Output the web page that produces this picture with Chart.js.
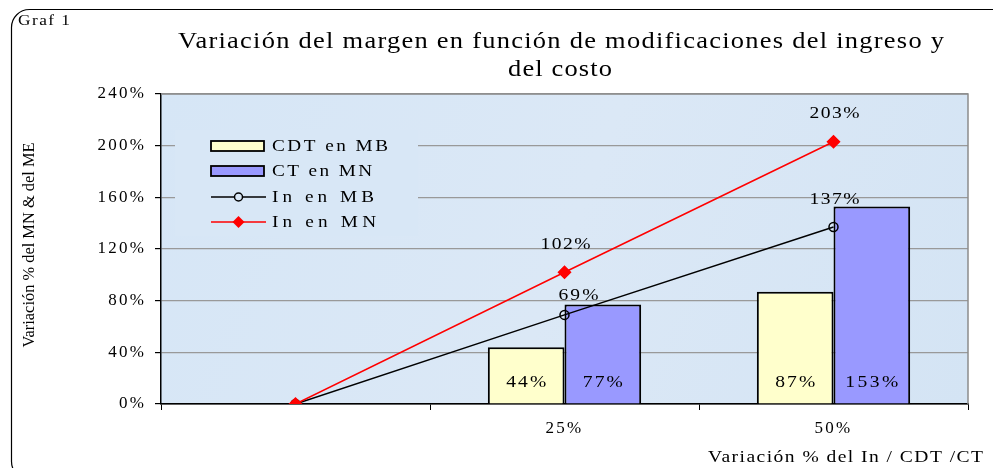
<!DOCTYPE html>
<html>
<head>
<meta charset="utf-8">
<script src="https://cdn.jsdelivr.net/npm/chart.js@4"></script>
<style>
html,body{margin:0;padding:0;background:#fff;}
#wrap{position:relative;width:993px;height:468px;}
canvas{display:block;}
</style>
</head>
<body>
<div id="wrap"><canvas id="c" width="993" height="468"></canvas></div>
<script>
const categories = ["", "25%", "50%"];
const cdtEnMB = [0, 44, 87];
const ctEnMN = [0, 77, 153];
const inEnMB = [0, 69, 137];
const inEnMN = [0, 102, 203];
const yTicks = [0, 40, 80, 120, 160, 200, 240];
const chartTitle = ["Variación del margen en función de modificaciones del ingreso y", "del costo"];
const yTitle = "Variación % del MN & del ME";
const xTitle = "Variación % del In / CDT /CT";
const cornerLabel = "Graf 1";
const seriesNames = ["CDT en MB", "CT en MN", "In en MB", "In en MN"];

const SERIF = '"Liberation Serif", "Times New Roman", serif';
const PLOT_BG = '#d8e7f6';

// draw text widened to a target width (horizontal stretch + letter spacing)
function fitText(ctx, text, x, y, target, align, maxStretch) {
  maxStretch = maxStretch || 1.15;
  ctx.letterSpacing = '0px';
  const w = ctx.measureText(text).width;
  const n = Array.from(text).length;
  const sx = Math.max(0.7, Math.min(target / w, maxStretch));
  const ls = n > 1 ? Math.max(0, (target / sx - w) / (n - 1)) : 0;
  let x0 = x;
  if (align === 'center') x0 = x - target / 2;
  else if (align === 'right') x0 = x - target;
  ctx.save();
  ctx.translate(x0, y);
  ctx.scale(sx, 1);
  ctx.letterSpacing = ls + 'px';
  ctx.textAlign = 'left';
  ctx.fillText(text, 0, 0);
  ctx.restore();
}

const decor = {
  id: 'decor',
  beforeDraw(chart) {
    const ctx = chart.ctx, a = chart.chartArea;
    ctx.save();
    ctx.fillStyle = '#fff';
    ctx.fillRect(0, 0, chart.width, chart.height);
    ctx.strokeStyle = '#000';
    ctx.lineWidth = 1.2;
    ctx.beginPath();
    ctx.roundRect(11.5, 9.5, 1000, 470, 18);
    ctx.stroke();
    const g = ctx.createLinearGradient(a.left, a.top, a.right, a.bottom);
    g.addColorStop(0, '#d6e6f6');
    g.addColorStop(0.5, '#dbe8f6');
    g.addColorStop(1, '#d4e4f4');
    ctx.fillStyle = g;
    ctx.fillRect(a.left, a.top, a.right - a.left, a.bottom - a.top);
    ctx.restore();
    // wider letter spacing for library-drawn tick labels (Excel-like rendering)
    ctx.letterSpacing = '2.2px';
  },
  afterDatasetsDraw(chart) {
    const ctx = chart.ctx, a = chart.chartArea;
    ctx.save();
    ctx.strokeStyle = '#8c8c8c';
    ctx.lineWidth = 1.5;
    ctx.beginPath();
    ctx.moveTo(a.left, a.top); ctx.lineTo(a.right, a.top); ctx.lineTo(a.right, a.bottom);
    ctx.stroke();

    // data labels
    ctx.fillStyle = '#000';
    ctx.font = '17px ' + SERIF;
    ctx.textBaseline = 'middle';
    [0, 1].forEach(di => {
      const meta = chart.getDatasetMeta(di);
      const data = chart.data.datasets[di].data;
      meta.data.forEach((el, i) => {
        if (!data[i]) return;
        const t = data[i] + '%';
        fitText(ctx, t, el.x, a.bottom - 21, t.length === 3 ? 40 : 53, 'center');
      });
    });
    [2, 3].forEach(di => {
      const meta = chart.getDatasetMeta(di);
      const data = chart.data.datasets[di].data;
      meta.data.forEach((el, i) => {
        if (!data[i]) return;
        const moved = (di === 2 && i === 1);
        const dx = moved ? 14 : 1;
        const dy = moved ? 19 : 28;
        const t = data[i] + '%';
        fitText(ctx, t, el.x + dx, el.y - dy, t.length === 3 ? 40 : 50, 'center');
      });
    });

    // legend (inside plot)
    const lx = 175, ly = 130, lw = 243, lh = 106;
    ctx.fillStyle = PLOT_BG;
    ctx.fillRect(lx, ly, lw, lh);
    const rows = [146, 171, 197, 222];
    const sx = 211, ex = 264;
    ctx.lineWidth = 1.8;
    ctx.strokeStyle = '#000';
    ctx.fillStyle = '#ffffcc';
    ctx.fillRect(sx, rows[0] - 5, ex - sx, 10); ctx.strokeRect(sx, rows[0] - 5, ex - sx, 10);
    ctx.fillStyle = '#9999ff';
    ctx.fillRect(sx, rows[1] - 5, ex - sx, 10); ctx.strokeRect(sx, rows[1] - 5, ex - sx, 10);
    ctx.lineWidth = 1.5;
    ctx.beginPath(); ctx.moveTo(sx, rows[2]); ctx.lineTo(ex + 2, rows[2]); ctx.stroke();
    ctx.beginPath(); ctx.arc((sx + ex + 2) / 2, rows[2], 4, 0, Math.PI * 2);
    ctx.fillStyle = PLOT_BG; ctx.fill(); ctx.stroke();
    ctx.strokeStyle = '#ff0000';
    ctx.beginPath(); ctx.moveTo(sx, rows[3]); ctx.lineTo(ex + 2, rows[3]); ctx.stroke();
    const cx = (sx + ex + 2) / 2;
    ctx.fillStyle = '#ff0000';
    ctx.beginPath(); ctx.moveTo(cx, rows[3] - 6); ctx.lineTo(cx + 6, rows[3]); ctx.lineTo(cx, rows[3] + 6); ctx.lineTo(cx - 6, rows[3]); ctx.closePath(); ctx.fill();
    ctx.fillStyle = '#000';
    ctx.font = '16px ' + SERIF;
    const legW = [116, 100, 102, 104];
    seriesNames.forEach((n, i) => fitText(ctx, n, 272, rows[i] + 1, legW[i], 'left', 1.2));

    // titles
    ctx.font = '23px ' + SERIF;
    fitText(ctx, chartTitle[0], 561, 42, 766, 'center');
    fitText(ctx, chartTitle[1], 560, 70, 104, 'center');
    ctx.font = '15px ' + SERIF;
    fitText(ctx, cornerLabel, 18, 21, 52, 'left');
    ctx.font = '17px ' + SERIF;
    fitText(ctx, xTitle, 983, 458, 275, 'right');
    ctx.save();
    ctx.translate(30, 245);
    ctx.rotate(-Math.PI / 2);
    ctx.font = '16px ' + SERIF;
    fitText(ctx, yTitle, 0, 0, 205, 'center');
    ctx.restore();
    ctx.restore();
  }
};

new Chart(document.getElementById('c'), {
  data: {
    labels: categories,
    datasets: [
      { type: 'bar', label: seriesNames[0], data: cdtEnMB, backgroundColor: '#ffffcc', borderColor: '#000', borderWidth: 2, order: 2 },
      { type: 'bar', label: seriesNames[1], data: ctEnMN, backgroundColor: '#9999ff', borderColor: '#000', borderWidth: 2, order: 2 },
      { type: 'line', label: seriesNames[2], data: inEnMB, borderColor: '#000', borderWidth: 1.5, pointStyle: 'circle', pointRadius: 4.5, pointBackgroundColor: 'rgba(0,0,0,0)', pointBorderColor: '#000', pointBorderWidth: 1.5, order: 1 },
      { type: 'line', label: seriesNames[3], data: inEnMN, borderColor: '#ff0000', borderWidth: 1.5, pointStyle: 'rectRot', pointRadius: 6, pointBackgroundColor: '#ff0000', pointBorderColor: '#ff0000', order: 0 }
    ]
  },
  options: {
    responsive: false,
    animation: false,
    devicePixelRatio: 1,
    layout: { padding: { top: 94, right: 25, left: 0, bottom: 0 } },
    categoryPercentage: 0.57,
    barPercentage: 1,
    plugins: { legend: { display: false }, tooltip: { enabled: false }, title: { display: false } },
    scales: {
      x: {
        offset: true,
        grid: { offset: true, drawOnChartArea: false, color: '#000', tickLength: 6, lineWidth: 1 },
        border: { color: '#000', width: 1.5 },
        ticks: { color: '#000', font: { family: SERIF, size: 17 }, padding: 8, maxRotation: 0 },
        afterFit(s) { s.height = 64; }
      },
      y: {
        min: 0, max: 240,
        afterBuildTicks(s) { s.ticks = yTicks.map(v => ({ value: v })); },
        grid: {
          color: (c) => c.tick && (c.tick.value === 0) ? '#000' : '#999999',
          tickColor: '#000', tickLength: 6, lineWidth: 1.2
        },
        border: { color: '#000', width: 1.5 },
        ticks: { color: '#000', font: { family: SERIF, size: 17 }, padding: 9, callback: v => v + '%' },
        afterFit(s) { s.width = 161; }
      }
    }
  },
  plugins: [decor]
});
</script>
</body>
</html>
